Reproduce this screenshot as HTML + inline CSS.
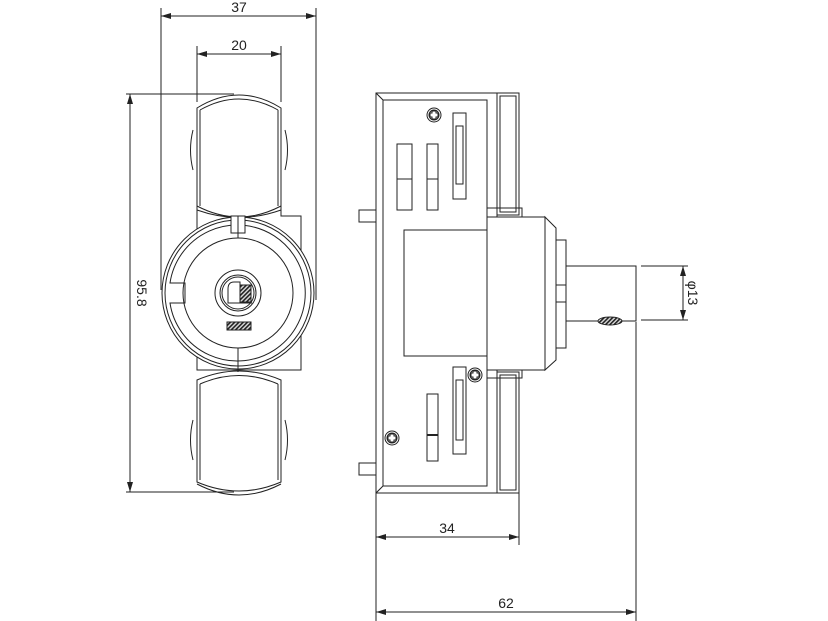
<!DOCTYPE html>
<html><head><style>
html,body{margin:0;padding:0;background:#fff;}
svg{display:block;}
text{font-family:"Liberation Sans",sans-serif;font-size:14px;fill:#222;}
</style></head><body>
<svg width="828" height="621" viewBox="0 0 828 621" xmlns="http://www.w3.org/2000/svg">
<defs>
<marker id="a" viewBox="0 0 10 6" refX="10" refY="3" markerWidth="10" markerHeight="6" orient="auto-start-reverse" markerUnits="userSpaceOnUse"><path d="M0,0L10,3L0,6z" fill="#222"/></marker>
<pattern id="h" width="3" height="3" patternUnits="userSpaceOnUse" patternTransform="rotate(45)"><rect width="3" height="3" fill="#ddd"/><rect width="1.6" height="3" fill="#222"/></pattern>
</defs>
<g fill="none" stroke="#222" stroke-width="1">
<!-- FRONT VIEW dimensions -->
<line x1="161" y1="8" x2="161" y2="290"/>
<line x1="316" y1="8" x2="316" y2="300"/>
<line x1="161" y1="16" x2="316" y2="16" marker-start="url(#a)" marker-end="url(#a)"/>
<line x1="197" y1="46" x2="197" y2="102"/>
<line x1="281" y1="46" x2="281" y2="102"/>
<line x1="197" y1="54" x2="281" y2="54" marker-start="url(#a)" marker-end="url(#a)"/>
<line x1="126" y1="94" x2="234" y2="94"/>
<line x1="126" y1="492" x2="234" y2="492"/>
<line x1="130" y1="94" x2="130" y2="492" marker-start="url(#a)" marker-end="url(#a)"/>
<!-- flange -->
<path d="M197,370 V208 H281 V216 H301 V370 Z"/>
<!-- upper grip -->
<path d="M193,170 Q188,150 193,130"/><path d="M285,130 Q290,150 285,170"/>
<path d="M197,108 Q239,82 281,108 V210 Q239,225 197,210 Z" fill="#fff"/>
<path d="M200,110 Q239,88 278,110"/>
<path d="M200,110 V206"/><path d="M278,110 V206"/>
<path d="M197,206 Q239,228 281,206"/>
<!-- lower grip -->
<path d="M193,420 Q188,440 193,460"/><path d="M285,420 Q290,440 285,460"/>
<path d="M197,380 Q239,362 281,380 V482 Q239,500 197,482 Z" fill="#fff"/>
<path d="M200,384 Q239,367 278,384"/>
<path d="M200,384 V480"/><path d="M278,384 V480"/>
<path d="M197,484 Q239,506 281,484"/>
<!-- circles -->
<circle cx="238" cy="293" r="76" fill="#fff"/>
<circle cx="238" cy="293" r="73"/>
<path d="M170,283 A68,68 0 1,1 170,303 H185 V283 Z"/>
<circle cx="238" cy="293" r="55"/>
<rect x="231" y="216" width="14" height="17" fill="#fff"/>
<line x1="238" y1="216" x2="238" y2="238"/>
<line x1="238" y1="348" x2="238" y2="372"/>
<circle cx="238" cy="293" r="23"/>
<circle cx="238" cy="293" r="18"/>
<circle cx="238" cy="293" r="16"/>
<path d="M228,303 V289 Q228,282 234,282 H240 V303 Z"/>
<rect x="240" y="285" width="11" height="17" fill="url(#h)"/>
<line x1="228" y1="303" x2="252" y2="303"/>
<rect x="227" y="322" width="24" height="8" fill="url(#h)"/>
<!-- SIDE VIEW -->
<rect x="376" y="93" width="121" height="400" fill="#fff"/>
<rect x="383" y="100" width="104" height="386"/>
<line x1="376" y1="93" x2="383" y2="100"/><line x1="376" y1="493" x2="383" y2="486"/>
<rect x="359" y="210" width="17" height="12"/>
<rect x="359" y="463" width="17" height="12"/>
<rect x="497" y="93" width="22" height="122"/>
<rect x="500" y="96" width="16" height="116"/>
<rect x="497" y="372" width="22" height="121"/>
<rect x="500" y="375" width="16" height="115"/>
<rect x="487" y="208" width="35" height="20"/>
<rect x="487" y="357" width="35" height="21"/>
<rect x="487" y="217" width="58" height="153" fill="#fff"/>
<path d="M545,217 L556,228 V360 L545,370 Z"/>
<rect x="556" y="240" width="10" height="108"/>
<line x1="556" y1="285" x2="566" y2="285"/><line x1="556" y1="302" x2="566" y2="302"/>
<rect x="404" y="230" width="83" height="126"/>
<rect x="566" y="266" width="70" height="55"/>
<ellipse cx="610" cy="321" rx="12" ry="4" fill="url(#h)"/>
<rect x="397" y="144" width="15" height="66"/><line x1="397" y1="179" x2="412" y2="179"/>
<rect x="427" y="144" width="11" height="66"/><line x1="427" y1="179" x2="438" y2="179"/>
<rect x="453" y="113" width="13" height="86"/><rect x="456" y="126" width="7" height="58"/>
<rect x="453" y="367" width="13" height="87"/><rect x="456" y="380" width="7" height="60"/>
<rect x="427" y="394" width="11" height="67"/><line x1="427" y1="435" x2="438" y2="435" stroke-width="2"/>
<g><circle cx="434" cy="115" r="7"/><circle cx="434" cy="115" r="5"/><path d="M432,111h4v2h2v4h-2v2h-4v-2h-2v-4h2z"/></g>
<g><circle cx="392" cy="438" r="7"/><circle cx="392" cy="438" r="5"/><path d="M390,434h4v2h2v4h-2v2h-4v-2h-2v-4h2z"/></g>
<g><circle cx="475" cy="375" r="7" fill="#fff"/><circle cx="475" cy="375" r="5"/><path d="M473,371h4v2h2v4h-2v2h-4v-2h-2v-4h2z"/></g>
<!-- side dims -->
<line x1="376" y1="493" x2="376" y2="621"/>
<line x1="519" y1="493" x2="519" y2="545"/>
<line x1="636" y1="322" x2="636" y2="621"/>
<line x1="376" y1="537" x2="519" y2="537" marker-start="url(#a)" marker-end="url(#a)"/>
<line x1="376" y1="612" x2="636" y2="612" marker-start="url(#a)" marker-end="url(#a)"/>
<line x1="641" y1="266" x2="688" y2="266"/>
<line x1="641" y1="320" x2="688" y2="320"/>
<line x1="683" y1="266" x2="683" y2="320" marker-start="url(#a)" marker-end="url(#a)"/>
</g>
<text x="239" y="12" text-anchor="middle">37</text>
<text x="239" y="50" text-anchor="middle">20</text>
<text x="447" y="533" text-anchor="middle">34</text>
<text x="506" y="608" text-anchor="middle">62</text>
<text transform="translate(137,293) rotate(90)" text-anchor="middle">95.8</text>
<text transform="translate(688,293) rotate(90)" text-anchor="middle">φ13</text>
</svg>
</body></html>
